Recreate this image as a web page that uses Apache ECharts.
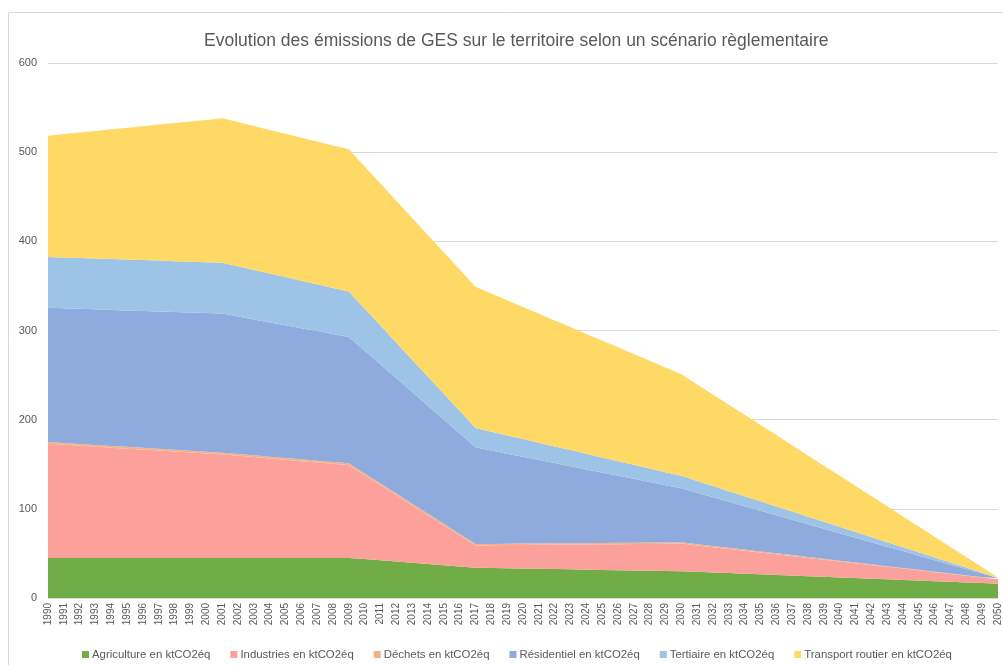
<!DOCTYPE html>
<html lang="fr">

<head>
    <meta charset="UTF-8">
    <title>Evolution des émissions de GES</title>
    <style>
        html, body {
            margin: 0;
            padding: 0;
            background: #fff;
        }

        #chart {
            width: 1003px;
            height: 665px;
        }
    </style>
</head>

<body>
    <div id="chart"></div>
    <script src="https://cdn.jsdelivr.net/npm/echarts@6/dist/echarts.min.js"></script>
    <script>
        var years = [];
        for (var y = 1990; y <= 2050; y++) years.push(String(y));

        var yTicks = [0, 100, 200, 300, 400, 500, 600];

        var agriculture = [
            45, 45, 45, 45, 45, 45, 45, 45, 45, 45,
            45, 45, 45, 45, 45, 45, 45, 45, 45, 45,
            43.6, 42.3, 40.9, 39.5, 38.1, 36.8, 35.4, 34, 33.7, 33.4,
            33.1, 32.8, 32.5, 32.2, 31.8, 31.5, 31.2, 30.9, 30.6, 30.3,
            30, 29.3, 28.6, 27.9, 27.2, 26.5, 25.8, 25.1, 24.4, 23.7,
            23, 22.3, 21.6, 20.9, 20.2, 19.5, 18.8, 18.1, 17.4, 16.7,
            16
        ];
        var industries = [
            128, 126.9, 125.8, 124.7, 123.6, 122.5, 121.5, 120.4, 119.3, 118.2,
            117.1, 116, 114.5, 113, 111.5, 110, 108.5, 107, 105.5, 104,
            94.1, 84.3, 74.4, 64.5, 54.6, 44.8, 34.9, 25, 25.5, 25.9,
            26.4, 26.8, 27.3, 27.8, 28.2, 28.7, 29.2, 29.6, 30.1, 30.5,
            31, 29.7, 28.4, 27.1, 25.8, 24.5, 23.2, 21.9, 20.6, 19.3,
            18, 16.7, 15.4, 14.1, 12.8, 11.5, 10.2, 8.9, 7.6, 6.3,
            5
        ];
        var dechets = [
            2, 2, 2, 2, 2, 2, 2, 2, 2, 2,
            2, 2, 2, 2, 2, 2, 2, 2, 2, 2,
            1.9, 1.9, 1.8, 1.8, 1.7, 1.6, 1.6, 1.5, 1.5, 1.5,
            1.5, 1.5, 1.5, 1.5, 1.5, 1.5, 1.5, 1.5, 1.5, 1.5,
            1.5, 1.4, 1.4, 1.3, 1.3, 1.2, 1.1, 1.1, 1.0, 1.0,
            0.9, 0.8, 0.8, 0.7, 0.7, 0.6, 0.5, 0.5, 0.4, 0.4,
            0.3
        ];
        var residentiel = [
            150.5, 151, 151.5, 152, 152.5, 153, 153.5, 154, 154.5, 155,
            155.5, 156, 154.2, 152.4, 150.6, 148.9, 147.1, 145.3, 143.5, 141.7,
            137.6, 133.4, 129.3, 125.1, 121, 116.8, 112.7, 108.5, 104.8, 101.1,
            97.4, 93.7, 90, 86.3, 82.7, 79, 75.3, 71.6, 67.9, 64.2,
            60.5, 57.5, 54.6, 51.6, 48.6, 45.6, 42.7, 39.7, 36.7, 33.7,
            30.8, 27.8, 24.8, 21.8, 18.9, 15.9, 12.9, 9.9, 7.0, 4.0,
            1
        ];
        var tertiaire = [
            57, 57, 57, 57, 57, 57, 57, 57, 57, 57,
            57, 57, 56.3, 55.5, 54.8, 54, 53.3, 52.5, 51.8, 51,
            47.3, 43.7, 40, 36.3, 32.6, 29, 25.3, 21.6, 21, 20.4,
            19.8, 19.3, 18.7, 18.1, 17.5, 16.9, 16.3, 15.8, 15.2, 14.6,
            14, 13.3, 12.6, 11.9, 11.3, 10.6, 9.9, 9.2, 8.5, 7.8,
            7.2, 6.5, 5.8, 5.1, 4.4, 3.7, 3.0, 2.4, 1.7, 1.0,
            0.3
        ];
        var transport = [
            136, 138.4, 140.7, 143.1, 145.5, 147.8, 150.2, 152.5, 154.9, 157.3,
            159.6, 162, 161.7, 161.4, 161.1, 160.8, 160.4, 160.1, 159.8, 159.5,
            159.4, 159.2, 159.1, 158.9, 158.8, 158.7, 158.5, 158.4, 155, 151.6,
            148.2, 144.7, 141.3, 137.9, 134.5, 131.1, 127.7, 124.3, 120.8, 117.4,
            114, 108.3, 102.7, 97, 91.3, 85.6, 80, 74.3, 68.6, 62.9,
            57.3, 51.6, 45.9, 40.2, 34.5, 28.9, 23.2, 17.5, 11.8, 6.2,
            0.5
        ];

        var seriesNames = [
            'Agriculture en ktCO2éq',
            'Industries en ktCO2éq',
            'Déchets en ktCO2éq',
            'Résidentiel en ktCO2éq',
            'Tertiaire en ktCO2éq',
            'Transport routier en ktCO2éq'
        ];
        var seriesData = [agriculture, industries, dechets, residentiel, tertiaire, transport];
        var colors = ['#70AD47', '#FBA09A', '#F4B183', '#8FAADC', '#9DC3E6', '#FFD966'];

        var series = seriesNames.map(function (name, i) {
            return {
                name: name,
                type: 'line',
                stack: 'ges',
                data: seriesData[i],
                symbol: 'none',
                lineStyle: { width: 0 },
                areaStyle: { color: colors[i], opacity: 1 },
                itemStyle: { color: colors[i] },
                emphasis: { disabled: true }
            };
        });

        var chart = echarts.init(document.getElementById('chart'));
        chart.setOption({
            animation: false,
            textStyle: { fontFamily: 'Liberation Sans' },
            title: {
                text: 'Evolution des émissions de GES sur le territoire selon un scénario règlementaire',
                left: 199,
                top: 27,
                textStyle: {
                    fontSize: 17.5,
                    fontWeight: 'normal',
                    color: '#595959',
                    fontFamily: 'Liberation Sans'
                }
            },
            graphic: [{
                type: 'rect',
                shape: { x: 8.5, y: 12.5, width: 1100, height: 800 },
                style: { fill: 'none', stroke: '#d9d9d9', lineWidth: 1 },
                silent: true
            }],
            legend: {
                data: seriesNames,
                top: 644,
                left: 77,
                icon: 'rect',
                itemWidth: 7,
                itemHeight: 7,
                itemGap: 20,
                textStyle: { fontSize: 11.4, color: '#595959', padding: [0, 0, 0, -2] }
            },
            grid: {
                left: 48,
                right: 0,
                top: 63,
                bottom: 67
            },
            xAxis: {
                type: 'category',
                data: years,
                boundaryGap: false,
                axisLine: { lineStyle: { color: '#d9d9d9' } },
                axisTick: { show: false },
                axisLabel: {
                    interval: 0,
                    rotate: 90,
                    fontSize: 10,
                    color: '#595959',
                    margin: 5
                }
            },
            yAxis: {
                type: 'value',
                min: yTicks[0],
                max: yTicks[yTicks.length - 1],
                interval: 100,
                axisLine: { show: false },
                axisTick: { show: false },
                axisLabel: { fontSize: 11, color: '#595959', margin: 11 },
                splitLine: { lineStyle: { color: '#d9d9d9' } }
            },
            series: series
        });
    </script>
</body>

</html>
